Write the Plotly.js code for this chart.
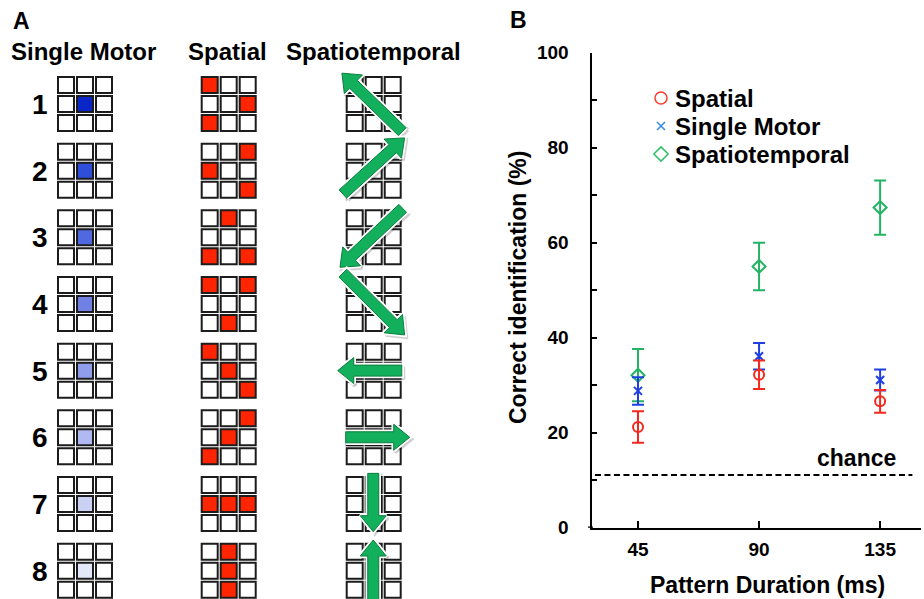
<!DOCTYPE html>
<html>
<head>
<meta charset="utf-8">
<script src="https://cdn.plot.ly/plotly-3.0.1.min.js"></script>
<style>html,body{margin:0;padding:0;background:#fff;}#chart{width:924px;height:599px;}</style>
</head>
<body>
<div id="chart"></div>
<script>
// ---------------- DATA ----------------
// Panel B
const durations = [45, 90, 135];
const spatialMean = [21.2, 32.2, 26.6];
const spatialErr = [3.3, 3.0, 2.4];
const singleMean = [28.8, 36.1, 31.1];
const singleErr = [2.9, 2.8, 2.2];
const stMean = [32.1, 55.0, 67.4];
const stErr = [5.5, 5.0, 5.7];
const chanceLevel = 11.1;
const yTickVals = [0, 10, 20, 30, 40, 50, 60, 70, 80, 90, 100];
const yTickText = ['0', '', '20', '', '40', '', '60', '', '80', '', '100'];
const seriesNames = ['Spatial', 'Single Motor', 'Spatiotemporal'];

// Panel A
const patternIds = ['1', '2', '3', '4', '5', '6', '7', '8'];
const columnTitles = ['Single Motor', 'Spatial', 'Spatiotemporal'];
const singleMotorShade = ['#0a26c9', '#2f4fdb', '#5068e0', '#7080e5', '#8f9deb', '#b0b9f1', '#c9d1f5', '#e3e7fa'];
// active cells of the spatial patterns: [row, col]
const spatialCells = [
  [[0, 0], [1, 2], [2, 0]],
  [[0, 2], [1, 0], [2, 2]],
  [[0, 1], [2, 0], [2, 2]],
  [[0, 0], [0, 2], [2, 1]],
  [[0, 0], [1, 1], [2, 2]],
  [[0, 2], [1, 1], [2, 0]],
  [[1, 0], [1, 1], [1, 2]],
  [[0, 1], [1, 1], [2, 1]]
];
// spatiotemporal sweeps: start and end, in cell units [col, row]
const sweepFrom = [[2.98, 2.93], [-0.15, 2.7], [3.0, -0.05], [-0.15, -0.15], [2.95, 1.47], [0.0, 1.47], [1.45, -0.14], [1.45, 3.4]];
const sweepTo = [[-0.2, -0.15], [3.1, -0.25], [-0.3, 3.05], [3.1, 3.1], [-0.42, 1.47], [3.37, 1.47], [1.45, 2.93], [1.45, -0.14]];

// ---------------- STYLE / LAYOUT CONSTANTS ----------------
const W = 924, H = 599;
const FONT = 'Liberation Sans, Arial, Helvetica, sans-serif';
const RED = '#f5281e', BLUE = '#1f3fe0', GREEN = '#22b463';
const CELL_RED = '#fe2500';
const pitch = 19, cellSide = 16;
const gridX = [57, 200.7, 345.7];
const rowTop0 = 76, rowPitch = 66.67;

const shapes = [];
const traces = [];
const annotations = [];

function cellRect(gx, gy, r, c, fill) {
  const x0 = gx + c * pitch + 1, y0 = gy + r * pitch + 1;
  shapes.push({type: 'rect', xref: 'x2', yref: 'y2', x0: x0, x1: x0 + cellSide, y0: y0, y1: y0 + cellSide,
    fillcolor: fill, line: {color: '#1c1c1c', width: 2}, layer: 'below'});
}

patternIds.forEach((id, p) => {
  const gy = rowTop0 + p * rowPitch;
  for (let r = 0; r < 3; r++) for (let c = 0; c < 3; c++)
    cellRect(gridX[0], gy, r, c, (r === 1 && c === 1) ? singleMotorShade[p] : '#ffffff');
  for (let r = 0; r < 3; r++) for (let c = 0; c < 3; c++) {
    const on = spatialCells[p].some(rc => rc[0] === r && rc[1] === c);
    cellRect(gridX[1], gy, r, c, on ? CELL_RED : '#ffffff');
  }
  for (let r = 0; r < 3; r++) for (let c = 0; c < 3; c++)
    cellRect(gridX[2], gy, r, c, '#ffffff');
  const x1 = gridX[2] + sweepFrom[p][0] * pitch, y1 = gy + sweepFrom[p][1] * pitch;
  const x2 = gridX[2] + sweepTo[p][0] * pitch, y2 = gy + sweepTo[p][1] * pitch;
  const L = Math.hypot(x2 - x1, y2 - y1);
  const dx = (x2 - x1) / L, dy = (y2 - y1) / L, nx = -dy, ny = dx;
  const sw = 5.5, hw = 13, hl = 16;
  const bx = x2 - dx * hl, by = y2 - dy * hl;
  const px = [x1 + nx * sw, bx + nx * sw, bx + nx * hw, x2, bx - nx * hw, bx - nx * sw, x1 - nx * sw, x1 + nx * sw];
  const py = [y1 + ny * sw, by + ny * sw, by + ny * hw, y2, by - ny * hw, by - ny * sw, y1 - ny * sw, y1 + ny * sw];
  traces.push({x: px.map(v => v + 1.5), y: py.map(v => v + 2), xaxis: 'x2', yaxis: 'y2', mode: 'lines', fill: 'toself',
    fillcolor: 'rgba(0,0,0,0.22)', line: {color: 'rgba(0,0,0,0.18)', width: 4}, hoverinfo: 'skip'});
  traces.push({x: px, y: py, xaxis: 'x2', yaxis: 'y2', mode: 'lines', fill: 'toself',
    fillcolor: '#ffffff', line: {color: '#ffffff', width: 4.5}, hoverinfo: 'skip'});
  traces.push({x: px, y: py, xaxis: 'x2', yaxis: 'y2', mode: 'lines', fill: 'toself',
    fillcolor: '#12b05c', line: {color: '#0b7d3d', width: 1}, hoverinfo: 'skip'});
  annotations.push({xref: 'x2', yref: 'y2', x: 40, y: gy + 28.5, text: id, showarrow: false,
    xanchor: 'center', yanchor: 'middle', font: {family: FONT, size: 28, weight: 700, color: '#000'}});
});

const headerCenters = [83.5, 227, 373.5];
columnTitles.forEach((t, i) => annotations.push({xref: 'x2', yref: 'y2', x: headerCenters[i], y: 51, text: t,
  showarrow: false, xanchor: 'center', yanchor: 'middle', font: {family: FONT, size: 24, weight: 700, color: '#000'}}));
annotations.push({xref: 'x2', yref: 'y2', x: 11, y: 21, text: 'A', showarrow: false, xanchor: 'left', yanchor: 'middle',
  font: {family: FONT, size: 23, weight: 700, color: '#000'}});
annotations.push({xref: 'x2', yref: 'y2', x: 508, y: 19.5, text: 'B', showarrow: false, xanchor: 'left', yanchor: 'middle',
  font: {family: FONT, size: 23, weight: 700, color: '#000'}});

annotations.push({xref: 'x2', yref: 'y2', x: 767, y: 585, text: 'Pattern Duration (ms)', showarrow: false,
  xanchor: 'center', yanchor: 'middle', font: {family: FONT, size: 23, weight: 700, color: '#000'}});
annotations.push({xref: 'x2', yref: 'y2', x: 518, y: 288, text: 'Correct identification (%)', showarrow: false, textangle: -90,
  xanchor: 'center', yanchor: 'middle', font: {family: FONT, size: 23, weight: 700, color: '#000'}});
annotations.push({xref: 'x2', yref: 'y2', x: 856, y: 458, text: 'chance', showarrow: false,
  xanchor: 'center', yanchor: 'middle', font: {family: FONT, size: 23, weight: 700, color: '#000'}});

const legendX = 661, legendY0 = 98, legendDy = 28;
const legendSymbols = ['circle-open', 'x-thin-open', 'diamond-open'];
const legendColors = ['#ff3b2e', '#2f8ae0', '#2cbf6a'];
const legendSizes = [12, 8, 11];
seriesNames.forEach((n, i) => {
  traces.push({x: [legendX], y: [legendY0 + i * legendDy], xaxis: 'x2', yaxis: 'y2', mode: 'markers', hoverinfo: 'skip',
    marker: {symbol: legendSymbols[i], size: legendSizes[i], color: legendColors[i], line: {color: legendColors[i], width: 1.5}}});
  annotations.push({xref: 'x2', yref: 'y2', x: 673, y: legendY0 + i * legendDy, text: n, showarrow: false,
    xanchor: 'left', yanchor: 'middle', font: {family: FONT, size: 24, weight: 700, color: '#000'}});
});

shapes.push({type: 'line', xref: 'x', yref: 'y', x0: 29, x1: 147, y0: chanceLevel, y1: chanceLevel,
  line: {color: '#000', width: 2, dash: '6px,3.5px'}});
// small overhang of the x axis to the left of the y axis
shapes.push({type: 'line', xref: 'x2', yref: 'y', x0: 588, x1: 593, y0: 0, y1: 0, line: {color: '#000', width: 2.5}});

function series(mean, err, color, symbol, size) {
  return {x: durations, y: mean, xaxis: 'x', yaxis: 'y', mode: 'markers', hoverinfo: 'x+y',
    error_y: {type: 'data', array: err, visible: true, color: color, thickness: 2, width: 6},
    marker: {symbol: symbol, size: size, color: color, line: {color: color, width: 2}}};
}
traces.push(series(stMean, stErr, GREEN, 'diamond-open', 10));
traces.push(series(singleMean, singleErr, BLUE, 'x-thin-open', 8));
traces.push(series(spatialMean, spatialErr, RED, 'circle-open', 10));

const layout = {
  width: W, height: H,
  margin: {l: 0, r: 0, t: 0, b: 0, pad: 0},
  paper_bgcolor: '#ffffff', plot_bgcolor: 'rgba(0,0,0,0)',
  showlegend: false,
  font: {family: FONT, color: '#000'},
  xaxis: {domain: [592 / W, 921 / W], range: [27.9, 150.2], anchor: 'y', tickvals: durations, ticktext: durations.map(String),
    ticks: 'inside', ticklen: 7, tickwidth: 2, tickcolor: '#000', showline: true, linewidth: 2.5, linecolor: '#000',
    showgrid: false, zeroline: false, tickfont: {family: FONT, size: 19, weight: 700, color: '#000'}, ticklabelstandoff: 3, fixedrange: true},
  yaxis: {domain: [1 - 527.7 / H, 1 - 52.7 / H], range: [0, 100], anchor: 'x', tickvals: yTickVals, ticktext: yTickText,
    ticks: 'inside', ticklen: 5, tickwidth: 2, tickcolor: '#000', showline: true, linewidth: 2.5, linecolor: '#000',
    showgrid: false, zeroline: false, tickfont: {family: FONT, size: 19, weight: 700, color: '#000'}, ticklabelstandoff: 17, fixedrange: true},
  xaxis2: {domain: [0, 1], range: [0, W], anchor: 'y2', visible: false, fixedrange: true},
  yaxis2: {domain: [0, 1], range: [H, 0], anchor: 'x2', visible: false, fixedrange: true},
  shapes: shapes,
  annotations: annotations
};

Plotly.newPlot('chart', traces, layout, {staticPlot: true, displayModeBar: false});
</script>
</body>
</html>
